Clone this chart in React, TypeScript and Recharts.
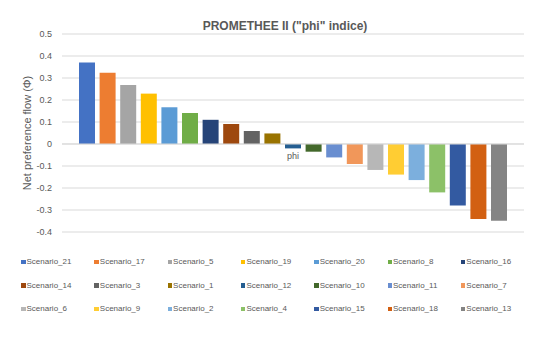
import React from 'react';
import { BarChart, Bar, XAxis, YAxis, CartesianGrid, ReferenceLine, Legend } from 'recharts';

const scenarios = [
  'Scenario_21', 'Scenario_17', 'Scenario_5', 'Scenario_19', 'Scenario_20', 'Scenario_8', 'Scenario_16',
  'Scenario_14', 'Scenario_3', 'Scenario_1', 'Scenario_12', 'Scenario_10', 'Scenario_11', 'Scenario_7',
  'Scenario_6', 'Scenario_9', 'Scenario_2', 'Scenario_4', 'Scenario_15', 'Scenario_18', 'Scenario_13',
];
const phiValues = [
  0.37, 0.324, 0.268, 0.229, 0.167, 0.141, 0.11,
  0.091, 0.059, 0.048, -0.02, -0.035, -0.061, -0.091,
  -0.118, -0.139, -0.164, -0.22, -0.28, -0.341, -0.349,
];
const colors = [
  '#4472C4', '#ED7D31', '#A5A5A5', '#FFC000', '#5B9BD5', '#70AD47', '#264478',
  '#9E480E', '#636363', '#997300', '#255E91', '#43682B', '#698ED0', '#F1975A',
  '#B7B7B7', '#FFCD33', '#7CAFDD', '#8CC168', '#335AA1', '#D26012', '#848484',
];
const yTicks = [-0.4, -0.3, -0.2, -0.1, 0, 0.1, 0.2, 0.3, 0.4, 0.5];
const categoryLabel = 'phi';

const row: Record<string, any> = { name: categoryLabel };
scenarios.forEach((s, i) => { row[s] = phiValues[i]; });
const data = [row];

const FONT = '"Liberation Sans", Arial, sans-serif';
const TEXT = '#595959';

const LegendContent = (props: any) => {
  const payload = [...(props.payload || [])].sort(
    (a: any, b: any) => scenarios.indexOf(a.value) - scenarios.indexOf(b.value)
  );
  return (
    <div style={{ position: 'relative', width: 550, height: 70 }}>
      {payload.map((p: any, i: number) => {
        const col = i % 7;
        const r = Math.floor(i / 7);
        return (
          <div
            key={p.value}
            style={{
              position: 'absolute',
              left: 21 + col * 73.3,
              top: r * 23.5,
              display: 'flex',
              alignItems: 'center',
              fontFamily: FONT,
              fontSize: 8,
              color: TEXT,
              whiteSpace: 'nowrap',
              lineHeight: '12px',
            }}
          >
            <span style={{ display: 'inline-block', width: 4.5, height: 4.5, background: p.color, marginRight: 1 }} />
            <span>{p.value}</span>
          </div>
        );
      })}
    </div>
  );
};

export default function App() {
  return (
    <div style={{ position: 'relative', width: 550, height: 344, margin: -8, background: '#fff' }}>
      <div
        style={{
          position: 'absolute', left: 4, top: 4, width: 540, height: 335,
          border: '1px solid #d9d9d9', boxSizing: 'border-box',
        }}
      />
      <div
        style={{
          position: 'absolute', left: 0, top: 19, width: 570, textAlign: 'center',
          fontFamily: FONT, fontSize: 12, fontWeight: 'bold', color: TEXT,
        }}
      >
        PROMETHEE II ("phi" indice)
      </div>
      <div style={{ position: 'absolute', left: 0, top: 0 }}>
        <BarChart
          width={550}
          height={344}
          data={data}
          margin={{ top: 34, right: 26, bottom: 112, left: 8 }}
          barCategoryGap={17}
          barGap={4.6}
        >
          <CartesianGrid vertical={false} stroke="#d9d9d9" strokeWidth={1} />
          <XAxis dataKey="name" hide />
          <YAxis
            domain={[-0.4, 0.5]}
            ticks={yTicks}
            width={54}
            axisLine={false}
            tickLine={false}
            tickSize={6}
            tickMargin={4}
            interval={0}
            tickFormatter={(v: number) => String(Number(v.toFixed(1)))}
            tick={{ fill: TEXT, fontSize: 9, fontFamily: FONT }}
            label={{
              value: 'Net preference flow (Φ)',
              angle: -90,
              position: 'insideLeft',
              offset: 19,
              style: { textAnchor: 'middle', fill: TEXT, fontSize: 11, fontFamily: FONT },
            }}
          />
          <ReferenceLine
            y={0}
            stroke="#d9d9d9"
            label={{
              value: categoryLabel,
              position: 'bottom',
              offset: 9,
              fill: TEXT,
              fontSize: 9,
              fontFamily: FONT,
              style: { fill: TEXT },
            }}
          />
          {scenarios.map((s, i) => (
            <Bar key={s} dataKey={s} name={s} fill={colors[i]} isAnimationActive={false} />
          ))}
          <Legend
            layout="horizontal"
            verticalAlign="middle"
            align="center"
            itemSorter={null as any}
            wrapperStyle={{ top: 256, left: 0, width: 550 }}
            content={<LegendContent />}
          />
        </BarChart>
      </div>
    </div>
  );
}
